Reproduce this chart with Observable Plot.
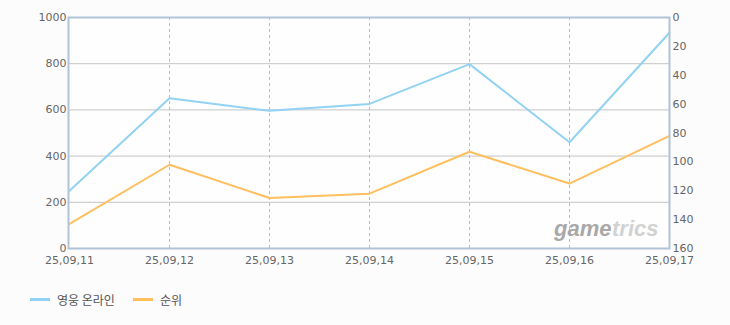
<!DOCTYPE html>
<html>
<head>
<meta charset="utf-8">
<script src="https://cdn.jsdelivr.net/npm/d3@7"></script>
<script src="https://cdn.jsdelivr.net/npm/@observablehq/plot@0.6"></script>
<style>
  body { margin: 0; background: #fcfcfc; font-family: "Noto Sans CJK KR", "DejaVu Sans", sans-serif; }
  #chart { position: relative; width: 730px; }
  .legend { display: flex; align-items: center; height: 30px; padding-left: 30px; font-size: 12px; color: #555; margin-top: 14px; }
  .legend .item { display: flex; align-items: center; margin-right: 18px; }
  .legend .sw { width: 20px; height: 3px; margin-right: 7px; }
</style>
</head>
<body>
<div id="chart"></div>
<script>
const dates = ["25,09,11","25,09,12","25,09,13","25,09,14","25,09,15","25,09,16","25,09,17"];
const players = [250, 650, 596, 626, 798, 460, 934];
const ranks = [143, 102, 125, 122, 93, 115, 82];
const leftTicks = [0, 200, 400, 600, 800, 1000];
const rightTicks = [0, 20, 40, 60, 80, 100, 120, 140, 160];
const seriesNames = ["영웅 온라인", "순위"];
const colors = ["#92d2f2", "#ffbf5e"];

const rankMax = 160, valMax = 1000;
const toLeft = r => valMax - r * valMax / rankMax;

const blue = dates.map((d, i) => ({d, v: players[i]}));
const orange = dates.map((d, i) => ({d, v: toLeft(ranks[i])}));

const plot = Plot.plot({
  width: 730,
  height: 270,
  marginLeft: 68,
  marginRight: 61,
  marginTop: 17,
  marginBottom: 22,
  style: {background: "transparent", fontFamily: "'DejaVu Sans', sans-serif", fontSize: "11px", color: "#666"},
  x: {type: "point", domain: dates, padding: 0, label: null},
  y: {domain: [0, valMax], label: null},
  marks: [
    Plot.frame({fill: "#fefefe"}),
    Plot.gridY(leftTicks.filter(t => t > 0 && t < valMax), {stroke: "#c4c4c4", strokeOpacity: 1}),
    Plot.gridX(dates.slice(1, -1), {stroke: "#bbbbbb", strokeOpacity: 1, strokeDasharray: "3,3"}),
    Plot.axisY(leftTicks, {tickSize: 0, tickPadding: 2, fill: "#666", fontSize: 11, label: null, tickFormat: v => String(v)}),
    Plot.axisY(rightTicks.map(toLeft), {anchor: "right", tickSize: 0, tickPadding: 3, fill: "#666", fontSize: 11, label: null,
      tickFormat: v => String(Math.round((valMax - v) * rankMax / valMax))}),
    Plot.axisX(dates, {tickSize: 0, tickPadding: 8, fill: "#666", fontSize: 11, label: null}),
    Plot.text(["game"], {frameAnchor: "bottom-right", dx: -58, dy: -20, lineAnchor: "middle", text: d => d, fill: "#a8a8a8", fontSize: 22, fontWeight: "bold", fontStyle: "italic", textAnchor: "end", fontFamily: "'Liberation Sans', sans-serif"}),
    Plot.text(["trics"], {frameAnchor: "bottom-right", dx: -11, dy: -20, lineAnchor: "middle", text: d => d, fill: "#d2d2d2", fontSize: 22, fontWeight: "bold", fontStyle: "italic", textAnchor: "end", fontFamily: "'Liberation Sans', sans-serif"}),
    Plot.line(orange, {x: "d", y: "v", stroke: colors[1], strokeWidth: 2}),
    Plot.line(blue, {x: "d", y: "v", stroke: colors[0], strokeWidth: 2}),
    Plot.frame({stroke: "#b0c3d7", strokeWidth: 2})
  ]
});

const chart = document.getElementById("chart");
chart.appendChild(plot);
const legend = document.createElement("div");
legend.className = "legend";
seriesNames.forEach((n, i) => {
  const it = document.createElement("div");
  it.className = "item";
  it.innerHTML = `<span class="sw" style="background:${colors[i]}"></span><span>${n}</span>`;
  legend.appendChild(it);
});
chart.appendChild(legend);
</script>
</body>
</html>
